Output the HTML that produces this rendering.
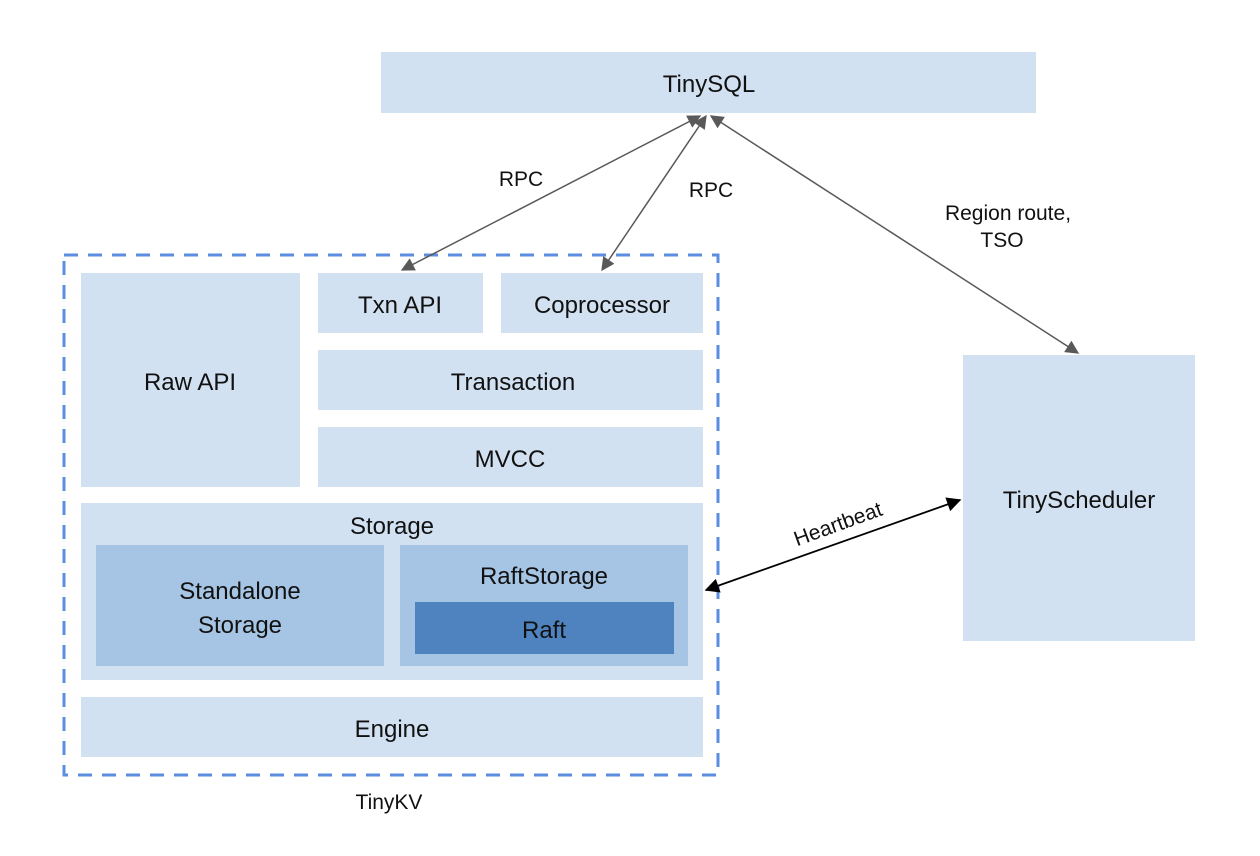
<!DOCTYPE html>
<html><head><meta charset="utf-8"><style>
html,body{margin:0;padding:0;background:#fff;}
svg{display:block;}
text{font-family:"Liberation Sans","DejaVu Sans",sans-serif;fill:#111;}
</style></head><body>
<svg width="1260" height="856" viewBox="0 0 1260 856" xmlns="http://www.w3.org/2000/svg">
<defs>
<marker id="ag" viewBox="0 0 10 10" refX="9" refY="5" markerWidth="10" markerHeight="9" orient="auto-start-reverse"><path d="M0,0 L10,5 L0,10 z" fill="#595959"/></marker>
<marker id="ab" viewBox="0 0 10 10" refX="9" refY="5" markerWidth="9" markerHeight="8" orient="auto-start-reverse"><path d="M0,0 L10,5 L0,10 z" fill="#000"/></marker>
</defs>
<g fill="#d2e1f1">
<rect x="381" y="52" width="655" height="61"/>
<rect x="81" y="273" width="219" height="214"/>
<rect x="318" y="273" width="165" height="60"/>
<rect x="501" y="273" width="202" height="60"/>
<rect x="318" y="350" width="385" height="60"/>
<rect x="318" y="427" width="385" height="60"/>
<rect x="81" y="503" width="622" height="177"/>
<rect x="81" y="697" width="622" height="60"/>
<rect x="963" y="355" width="232" height="286"/>
</g>
<rect x="96" y="545" width="288" height="121" fill="#a6c4e3"/>
<rect x="400" y="545" width="288" height="121" fill="#a6c4e3"/>
<rect x="415" y="602" width="259" height="52" fill="#4f83c0"/>
<rect x="64" y="255" width="654" height="520" fill="none" stroke="#5b8ee0" stroke-width="3" stroke-dasharray="14,10"/>
<g stroke="#595959" stroke-width="1.5" fill="none">
<line x1="700" y1="116" x2="402" y2="270" marker-start="url(#ag)" marker-end="url(#ag)"/>
<line x1="706" y1="116" x2="602" y2="270" marker-start="url(#ag)" marker-end="url(#ag)"/>
<line x1="711" y1="116" x2="1078" y2="353" marker-start="url(#ag)" marker-end="url(#ag)"/>
</g>
<line x1="706" y1="590" x2="960" y2="500" stroke="#000" stroke-width="1.8" marker-start="url(#ab)" marker-end="url(#ab)"/>
<g font-size="24" text-anchor="middle">
<text x="709" y="92">TinySQL</text>
<text x="190" y="390">Raw API</text>
<text x="400" y="313">Txn API</text>
<text x="602" y="313">Coprocessor</text>
<text x="513" y="390">Transaction</text>
<text x="510" y="467">MVCC</text>
<text x="392" y="534">Storage</text>
<text x="240" y="599">Standalone</text>
<text x="240" y="633">Storage</text>
<text x="544" y="584">RaftStorage</text>
<text x="544" y="638">Raft</text>
<text x="392" y="737">Engine</text>
<text x="1079" y="508">TinyScheduler</text>
</g>
<g font-size="21" text-anchor="middle">
<text x="521" y="186">RPC</text>
<text x="711" y="197">RPC</text>
<text x="1008" y="220">Region route,</text>
<text x="1002" y="247">TSO</text>
<text x="389" y="809">TinyKV</text>
<text x="838" y="531" transform="rotate(-20 838 524)">Heartbeat</text>
</g>
</svg>
</body></html>
